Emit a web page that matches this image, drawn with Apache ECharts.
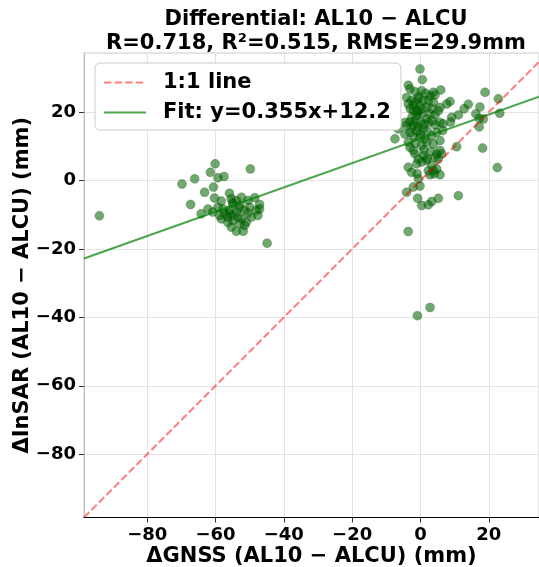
<!DOCTYPE html>
<html>
<head>
<meta charset="utf-8">
<script src="https://cdn.jsdelivr.net/npm/echarts@6/dist/echarts.min.js"></script>
<style>html,body{margin:0;padding:0;background:#fff}#c{width:539px;height:567px}</style>
</head>
<body>
<div id="c"></div>
<script>
// Left cluster (ΔGNSS, ΔInSAR) in mm
const leftX = [-94,-69.8,-66.1,-60.1,-61.5,-59.3,-57.5,-49.8,-60.6,-63.2,-67.3,-60.3,-55.9,-58.3,-55.4,-53.9,-52.4,-54.9,-52.9,-50.5,-48.5,-47.1,-50.0,-51.5,-48.0,-53.9,-55.9,-57.8,-59.3,-62.2,-64.2,-60.8,-58.3,-56.4,-54.9,-52.4,-51.0,-52.9,-55.4,-53.9,-51.9,-49.5,-47.6,-47.1,-56.4,-44.9,-58.8,-57.3,-54.9,-53.4,-51.5,-55,-53,-50.5,-56];
const leftY = [-10.3,-1.0,0.5,4.9,2.4,0.8,1.2,3.4,-1.9,-3.4,-7.0,-5.1,-3.7,-6.0,-5.3,-5.8,-4.9,-6.8,-7.3,-5.8,-5.0,-7.0,-7.8,-8.7,-8.7,-9.2,-8.7,-8.3,-7.8,-8.3,-9.7,-9.2,-11.2,-10.7,-10.2,-11.2,-12.2,-12.6,-13.6,-14.8,-14.8,-10.7,-10.2,-8.3,-12.2,-18.3,-10.2,-9.7,-11.7,-10.7,-13.1,-6.5,-8,-9.5,-9.5];
// Right cluster
const rightX = [-0.14,0.54,-3.56,-3.07,-1.61,0.35,3.77,5.92,2.79,4.26,-4.05,-2.59,-0.63,0.84,2.3,3.77,8.66,7.68,-3.56,-1.61,-0.14,1.81,3.28,5.72,5.23,14.0,12.8,11.1,-2.1,-0.63,-1.12,0.35,2.79,4.26,1.81,9.15,8.8,5.72,4.26,2.3,-4.54,-3.07,-1.61,-0.14,-6.5,-4.05,-2.59,-0.63,0.84,-7.47,-4.54,-2.1,-0.14,1.32,3.28,4.75,5.72,3.77,1.81,0.35,-3.56,-3.07,-2.1,-1.61,5.72,4.75,6.21,4.26,5.23,0.84,-0.63,0.35,1.81,-1.12,10.6,-3.56,-2.59,3.28,2.3,3.77,2.79,5.72,4.75,-0.63,-0.14,-2.1,-4.05,-0.83,0.35,2.3,3.28,5.23,11.1,18.9,22.8,17.4,16.2,17.2,18.4,17.2,23.2,6.6,6.5,18.2,22.5,-3.6,2.8,-0.9,-2,-1,0.5,-2.5,1,-1,-3,2,-1.5,1,3,-0.5,1.5,-3,3.5,0,-2,4,2,-1];
const rightY = [32.6,29.5,27.9,26.8,26.0,26.3,25.8,26.5,24.8,25.0,24.3,23.4,23.9,23.4,23.4,22.9,23.1,22.4,22.4,22.9,21.9,21.4,21.1,21.4,20.4,22.3,21.0,19.2,20.4,20.0,19.0,19.5,19.5,19.2,18.0,18.5,17.1,17.0,16.3,17.0,17.0,17.2,17.5,17.0,15.1,16.1,15.6,15.6,15.1,12.2,13.6,13.1,12.7,12.2,13.1,14.1,11.7,10.7,11.2,10.2,11.2,9.7,8.8,7.8,8.8,7.8,7.8,6.8,6.3,7.3,6.3,5.4,5.9,4.9,9.9,3.9,2.4,4.4,2.9,2.9,1.7,1.7,3.4,0.5,-1.6,-1.9,-3.4,-5.2,-7.3,-7.1,-6.1,-5.2,-4.4,25.8,23.9,21.5,19.5,18.2,18.0,15.7,19.7,16.6,14.6,9.5,3.8,-14.9,-37.1,-39.5,22,20.5,21,18.5,16.5,14.5,14,14.5,11,9,8.5,24.5,25.5,21,17.5,13.5,16.2,2,6.5,2];
// Fit
const fitSlope = 0.355;
const fitIntercept = 12.2;
const axisMin = -98.5;
const xMax = 34.7;
const yMax = 37.3;
const tickStep = 20;

const pts = [];
leftX.forEach((x, i) => pts.push([x, leftY[i]]));
rightX.forEach((x, i) => pts.push([x, rightY[i]]));

const FONT = 'DejaVu Sans';
const fmt = v => String(v).replace('-', '\u2212');

const chart = echarts.init(document.getElementById('c'), null, {renderer: 'canvas'});
chart.setOption({
  animation: false,
  backgroundColor: '#fff',
  title: {
    text: 'Differential: AL10 \u2212 ALCU\nR=0.718, R\u00b2=0.515, RMSE=29.9mm',
    left: 316, top: 8, textAlign: 'center', padding: 0,
    textStyle: {fontFamily: FONT, fontWeight: 'bold', fontSize: 21, lineHeight: 24, color: '#000'}
  },
  grid: {left: 84, right: 0, top: 53, bottom: 49.5, show: true, borderColor: '#cccccc', borderWidth: 1,
    outerBoundsMode: 'none', containLabel: false},
  legend: {
    left: 95, top: 63, orient: 'vertical',
    itemWidth: 42, itemHeight: 14, itemGap: 9,
    padding: [9, 10, 7, 8],
    backgroundColor: '#fff', borderColor: '#cccccc', borderWidth: 1, borderRadius: 5,
    itemStyle: {opacity: 0},
    textStyle: {fontFamily: FONT, fontWeight: 'bold', fontSize: 21, color: '#000', padding: [0, 0, 0, 12]},
    data: ['1:1 line', 'Fit: y=0.355x+12.2']
  },
  xAxis: {
    type: 'value', min: axisMin, max: xMax, minInterval: tickStep, maxInterval: tickStep,
    name: '\u0394GNSS (AL10 \u2212 ALCU) (mm)', nameLocation: 'middle', nameGap: 29, nameMoveOverlap: false,
    nameTextStyle: {fontFamily: FONT, fontWeight: 'bold', fontSize: 21, color: '#000'},
    axisLine: {onZero: false, lineStyle: {color: '#000', width: 1.2}},
    axisTick: {show: true, length: 5, lineStyle: {color: '#333'}},
    axisLabel: {showMinLabel: false, showMaxLabel: false, margin: 9, formatter: fmt,
      fontFamily: FONT, fontWeight: 'bold', fontSize: 18, color: '#000'},
    splitLine: {show: true, lineStyle: {color: '#e3e3e3', width: 1}}
  },
  yAxis: {
    type: 'value', min: axisMin, max: yMax, minInterval: tickStep, maxInterval: tickStep,
    name: '\u0394InSAR (AL10 \u2212 ALCU) (mm)', nameLocation: 'middle', nameGap: 51, nameMoveOverlap: false,
    nameTextStyle: {fontFamily: FONT, fontWeight: 'bold', fontSize: 21, color: '#000'},
    axisLine: {onZero: false, lineStyle: {color: '#bbbbbb', width: 1}},
    axisTick: {show: true, length: 5, lineStyle: {color: '#333'}},
    axisLabel: {showMinLabel: false, showMaxLabel: false, margin: 8, formatter: fmt,
      fontFamily: FONT, fontWeight: 'bold', fontSize: 18, color: '#000'},
    splitLine: {show: true, lineStyle: {color: '#e3e3e3', width: 1}}
  },
  series: [
    {
      type: 'scatter', name: 'points', data: pts, symbolSize: 9, z: 2,
      itemStyle: {color: 'rgba(0,100,0,0.7)', borderColor: 'rgba(0,60,0,0.5)', borderWidth: 0.6}
    },
    {
      type: 'line', name: '1:1 line', symbol: 'none', z: 3,
      data: [[axisMin, axisMin], [xMax, xMax]],
      lineStyle: {color: 'rgba(255,0,0,0.5)', width: 2, type: [7.4, 3.2]},
      itemStyle: {color: 'rgba(255,0,0,0.5)'}
    },
    {
      type: 'line', name: 'Fit: y=0.355x+12.2', symbol: 'none', z: 3,
      data: [[axisMin, fitSlope * axisMin + fitIntercept], [xMax, fitSlope * xMax + fitIntercept]],
      lineStyle: {color: 'rgba(0,128,0,0.7)', width: 2},
      itemStyle: {color: 'rgba(0,128,0,0.7)'}
    }
  ]
});
</script>
</body>
</html>
